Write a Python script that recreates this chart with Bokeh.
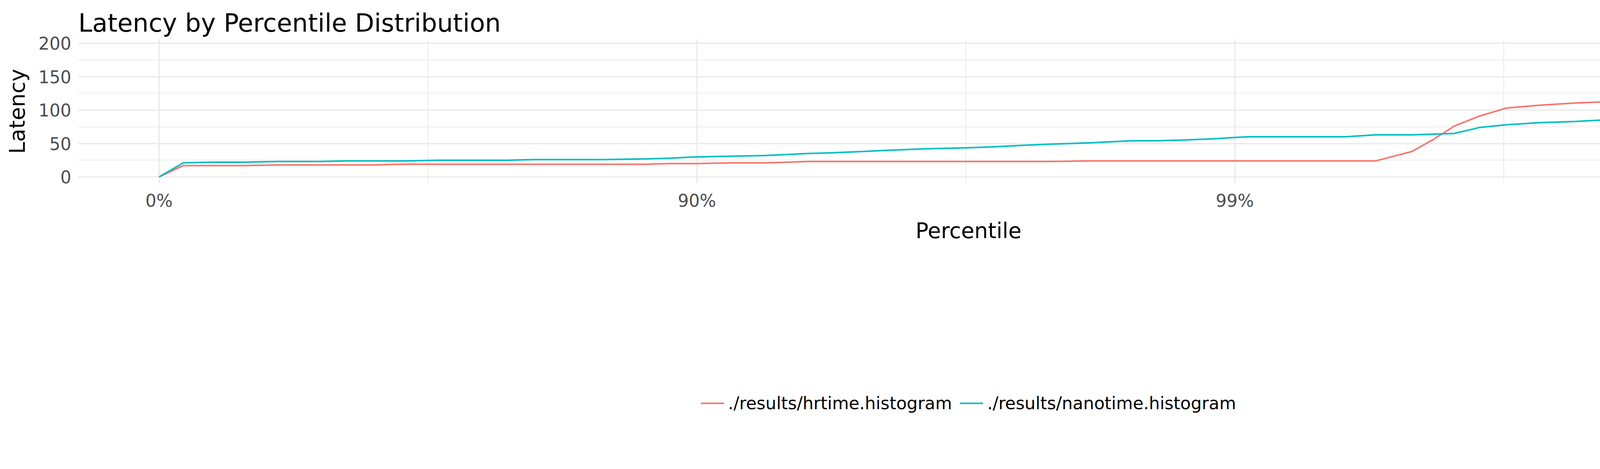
import numpy as np
from bokeh.plotting import figure
from bokeh.models import Legend, LegendItem, FixedTicker, Range1d, Label
from bokeh.embed import file_html
from bokeh.resources import INLINE

# x values are log-percentile units: u = -log10(1 - p)
hr_u = [0, 0.045, 0.157, 0.221, 0.398, 0.458, 0.902, 0.95, 1.0, 1.06, 1.125, 1.206,
        1.659, 1.726, 2.02, 2.262, 2.329, 2.369, 2.408, 2.455, 2.505, 2.564, 2.633,
        2.708, 2.755, 2.805, 2.864, 2.931, 3.009]
hr_lat = [0, 17, 17, 18, 18, 19, 19, 20, 20, 21, 21, 23,
          23, 24, 24, 24, 38, 56, 76, 91, 103, 107, 110.5,
          113, 117, 124, 176, 191, 196]
nano_u = [0, 0.045, 0.097, 0.157, 0.221, 0.298, 0.348, 0.458, 0.52, 0.647, 0.699, 0.825,
          0.906, 0.95, 1.0, 1.06, 1.125, 1.206, 1.25, 1.306, 1.358, 1.425, 1.5, 1.55,
          1.6, 1.659, 1.73, 1.807, 1.852, 1.9, 1.96, 2.0, 2.024, 2.205, 2.262, 2.329,
          2.408, 2.455, 2.505, 2.564, 2.633, 2.708, 2.755, 2.805, 2.864, 2.931, 3.009]
nano_lat = [0, 21, 22, 22, 23, 23, 24, 24, 25, 25, 26, 26,
            27, 28, 30, 31, 32, 35, 36, 38, 40, 42, 43.5, 45,
            47, 49, 51, 54, 54, 55, 57, 59, 60, 60, 63, 63,
            65, 74, 78, 81, 83, 86, 87, 89, 91, 94, 128]
tick_pos = [0, 1, 2, 3]
tick_labels = ["0%", "90%", "99%", "99.9%"]
series_names = ["./results/hrtime.histogram", "./results/nanotime.histogram"]
colors = ["#F8766D", "#00BFC4"]

FONT = "DejaVu Sans"
p = figure(width=4784, height=1184, output_backend="svg", toolbar_location=None,
           x_range=Range1d(-0.15, 3.16), y_range=Range1d(-9.8, 205.8),
           min_border_left=200, min_border_right=26, min_border_top=100,
           min_border_bottom=20)
p.outline_line_color = None
p.background_fill_color = "white"
p.border_fill_color = "white"

p.title.text = "Latency by Percentile Distribution"
p.title.text_font = FONT
p.title.text_font_size = "64px"
p.title.text_font_style = "normal"
p.title.text_color = "black"

r1 = p.line(hr_u, hr_lat, line_color=colors[0], line_width=4)
r2 = p.line(nano_u, nano_lat, line_color=colors[1], line_width=4)

p.xaxis.ticker = FixedTicker(ticks=tick_pos, minor_ticks=[0.5, 1.5, 2.5])
p.xaxis.major_label_overrides = {t: l for t, l in zip(tick_pos, tick_labels)}
p.yaxis.ticker = FixedTicker(ticks=[0, 50, 100, 150, 200], minor_ticks=[25, 75, 125, 175])
for ax in (p.xaxis, p.yaxis):
    ax.axis_line_color = None
    ax.major_tick_line_color = None
    ax.minor_tick_line_color = None
    ax.major_label_text_font = FONT
    ax.major_label_text_font_size = "44px"
    ax.major_label_text_color = "#4D4D4D"
    ax.axis_label_text_font = FONT
    ax.axis_label_text_font_size = "55px"
    ax.axis_label_text_font_style = "normal"
    ax.axis_label_text_color = "black"
p.xaxis.axis_label = "Percentile"
p.yaxis.axis_label = "Latency"
p.xaxis.major_label_standoff = 12
p.yaxis.major_label_standoff = 12
p.xaxis.axis_label_standoff = 16
p.yaxis.axis_label_standoff = 20

for g in (p.xgrid, p.ygrid):
    g.grid_line_color = "#EBEBEB"
    g.grid_line_width = 3.5
    g.minor_grid_line_color = "#EBEBEB"
    g.minor_grid_line_width = 2

legend = Legend(items=[LegendItem(label=series_names[0], renderers=[r1]),
                       LegendItem(label=series_names[1], renderers=[r2])],
                orientation="horizontal", location="center",
                label_text_font=FONT, label_text_font_size="44px",
                label_text_color="black",
                glyph_width=60, label_standoff=10, spacing=20,
                border_line_color=None, background_fill_alpha=0,
                margin=30, padding=10)
p.add_layout(legend, "below")

p.add_layout(Label(x=0.97, y=-73, x_units="data", y_units="data", text="FileName",
                   text_font=FONT, text_font_size="55px", text_align="right",
                   text_baseline="middle", text_color="black"))

open("out.html", "w").write(file_html(p, INLINE))
